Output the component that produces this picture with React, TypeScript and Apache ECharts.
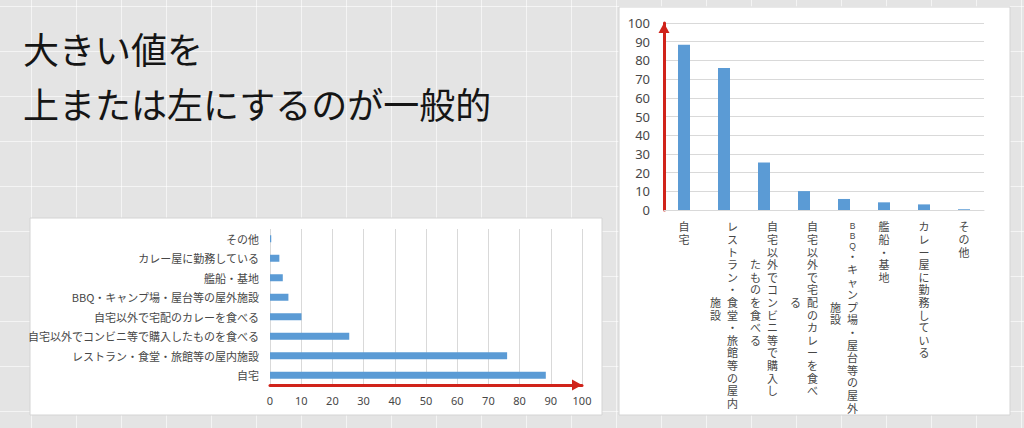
import { useEffect, useRef } from "react";
import * as echarts from "echarts";

// categories in order: largest first (bottom of the horizontal chart, left of the vertical one)
const categories = [
  "自宅",
  "レストラン・食堂・旅館等の屋内施設",
  "自宅以外でコンビニ等で購入したものを食べる",
  "自宅以外で宅配のカレーを食べる",
  "BBQ・キャンプ場・屋台等の屋外施設",
  "艦船・基地",
  "カレー屋に勤務している",
  "その他",
];
const values = [88.4, 76.0, 25.4, 10.1, 5.9, 4.1, 3.0, 0.4];

// how the vertical chart wraps its upright labels into columns
const verticalLabels = [
  "自宅",
  "レストラン・食堂・旅館等の屋内\n施設",
  "自宅以外でコンビニ等で購入し\nたものを食べる",
  "自宅以外で宅配のカレーを食べ\nる",
  "BBQ・キャンプ場・屋台等の屋外\n施設",
  "艦船・基地",
  "カレー屋に勤務している",
  "その他",
];

const headline = ["大きい値を", "上または左にするのが一般的"];
const axisMin = 0;
const axisMax = 100;
const axisStep = 10;

const BAR = "#5b9bd5";
const RED = "#d0231a";
const GRID = "#d9d9d9";
const LABEL = "#474747";
const JP = "'Noto Sans CJK JP', 'Noto Sans', sans-serif";
const NUM = "'Noto Sans', 'Open Sans', sans-serif";
// Latin face first keeps each stacked glyph's line box tight; kana/kanji fall back to Noto CJK
const STACK = "'Liberation Sans', 'Noto Sans CJK JP', sans-serif";

const isHalf = (ch: string) => /[A-Za-z0-9]/.test(ch);

// stack characters top to bottom; a second column sits to the left, centred on the first
function uprightLabel(_: string, index: number) {
  const [first, second] = verticalLabels[index].split("\n");
  const colA = Array.from(first);
  const colB = second ? Array.from(second) : [];
  const offset = Math.floor((colA.length - colB.length) / 2);
  return colA
    .map((ch, i) => {
      const right = `{${isHalf(ch) ? "h" : "c"}|${ch}}`;
      if (!colB.length) return right;
      const b = colB[i - offset];
      const left = b ? `{c|${b}}` : "{e|}";
      return left + right;
    })
    .join("\n");
}

export default function App() {
  const ref = useRef<HTMLDivElement>(null);

  useEffect(() => {
    document.body.style.margin = "0";
    const el = ref.current;
    if (!el) return;
    const chart = echarts.init(el, undefined, { renderer: "svg" });

    const redLine = {
      show: true,
      symbol: ["none", "triangle"],
      symbolSize: [11, 10],
      symbolOffset: [0, -5],
      lineStyle: { color: RED, width: 3 },
    };

    chart.setOption({
      animation: false,
      backgroundColor: "transparent",
      title: {
        text: headline.join("\n"),
        left: 18,
        top: 15,
        textStyle: {
          fontFamily: JP,
          fontSize: 36,
          lineHeight: 55,
          fontWeight: "normal",
          color: "#151515",
        },
      },
      graphic: [
        {
          type: "rect",
          z: -1,
          shape: { x: 30, y: 218, width: 572, height: 197 },
          style: { fill: "#ffffff", stroke: "#d4d4d4", lineWidth: 1 },
        },
        {
          type: "rect",
          z: -1,
          shape: { x: 619, y: 7, width: 391, height: 408 },
          style: { fill: "#ffffff", stroke: "#d4d4d4", lineWidth: 1 },
        },
      ],
      grid: [
        { left: 270, top: 229, width: 312, height: 156 },
        { left: 664, top: 23, width: 320, height: 187 },
      ],
      xAxis: [
        {
          type: "value",
          gridIndex: 0,
          min: axisMin,
          max: axisMax,
          interval: axisStep,
          axisLine: redLine,
          axisTick: { show: false },
          axisLabel: { color: LABEL, fontSize: 11, fontFamily: NUM, margin: 10 },
          splitLine: { show: true, lineStyle: { color: GRID, width: 1 } },
        },
        {
          type: "category",
          gridIndex: 1,
          data: categories,
          axisLine: { show: true, lineStyle: { color: GRID, width: 1 } },
          axisTick: { show: false },
          axisLabel: {
            interval: 0,
            margin: 11,
            formatter: uprightLabel,
            rich: {
              c: { fontFamily: STACK, fontSize: 11, lineHeight: 12.6, width: 17, align: "center", color: LABEL },
              h: { fontFamily: STACK, fontSize: 8.5, lineHeight: 10, width: 17, align: "center", color: LABEL },
              e: { fontFamily: STACK, fontSize: 11, lineHeight: 1, width: 17, align: "center", color: LABEL },
            },
          },
        },
      ],
      yAxis: [
        {
          type: "category",
          gridIndex: 0,
          data: categories,
          axisLine: { show: false },
          axisTick: { show: false },
          axisLabel: { color: LABEL, fontSize: 11, fontFamily: JP, margin: 11 },
        },
        {
          type: "value",
          gridIndex: 1,
          min: axisMin,
          max: axisMax,
          interval: axisStep,
          axisLine: redLine,
          axisTick: { show: false },
          axisLabel: { color: LABEL, fontSize: 13, fontFamily: NUM, margin: 14 },
          splitLine: { show: true, lineStyle: { color: GRID, width: 1 } },
        },
      ],
      series: [
        {
          type: "bar",
          xAxisIndex: 0,
          yAxisIndex: 0,
          data: values,
          barWidth: 7,
          itemStyle: { color: BAR },
        },
        {
          type: "bar",
          xAxisIndex: 1,
          yAxisIndex: 1,
          data: values,
          barWidth: 12,
          itemStyle: { color: BAR },
        },
      ],
    });

    return () => chart.dispose();
  }, []);

  return (
    <div
      style={{
        position: "absolute",
        left: 0,
        top: 0,
        width: 1024,
        height: 428,
        backgroundColor: "#e4e4e4",
        backgroundImage:
          "linear-gradient(to right, rgba(255,255,255,0.6) 1.5px, transparent 1.5px), linear-gradient(to bottom, rgba(255,255,255,0.6) 1.5px, transparent 1.5px)",
        backgroundSize: "45px 45px",
        backgroundPosition: "31px 6px",
      }}
    >
      <div ref={ref} style={{ width: 1024, height: 428 }} />
    </div>
  );
}
